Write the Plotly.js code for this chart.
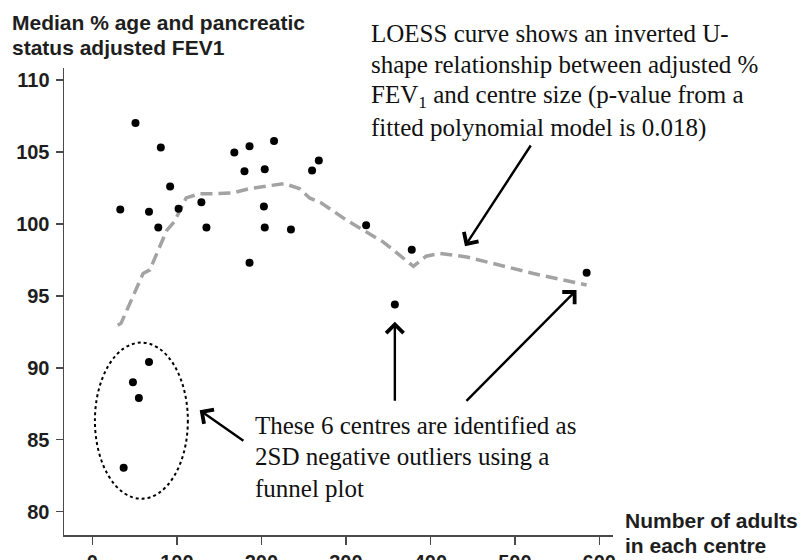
<!DOCTYPE html>
<html>
<head>
<meta charset="utf-8">
<script src="https://cdn.plot.ly/plotly-3.0.1.min.js"></script>
<style>html,body{margin:0;padding:0;background:#fff;}#chart{width:801px;height:560px;}</style>
</head>
<body>
<div id="chart"></div>
<script>
// Centre size (number of adults) and median adjusted % FEV1
const centreSize = [33, 51, 67, 78, 81, 92, 102, 129, 135, 168, 180, 186, 186, 203, 204, 204, 215, 235, 260, 268, 324, 378, 358, 585, 67, 48, 55, 37];
const medianFEV1 = [101.0, 107.0, 100.85, 99.75, 105.3, 102.6, 101.05, 101.5, 99.75, 104.95, 103.65, 105.4, 97.3, 101.2, 103.8, 99.75, 105.75, 99.6, 103.7, 104.4, 99.9, 98.2, 94.4, 96.6, 90.4, 89.0, 87.9, 83.05];

// LOESS curve
const loessX = [30, 34, 60, 68, 88, 97, 111, 127, 147, 166, 186, 206, 227, 245, 257, 271, 301, 344, 380, 395, 411, 443, 482, 522, 585];
const loessY = [92.95, 93.1, 96.55, 96.8, 99.55, 100.15, 101.8, 102.1, 102.1, 102.15, 102.45, 102.65, 102.8, 102.45, 101.8, 101.45, 100.25, 98.75, 97.05, 97.75, 97.95, 97.7, 97.15, 96.55, 95.75];

const xTicks = [0, 100, 200, 300, 400, 500, 600];
const yTicks = [80, 85, 90, 95, 100, 105, 110];

const yTitleLines = ['Median % age and pancreatic', 'status adjusted FEV1'];
const xTitleLines = ['Number of adults', 'in each centre'];
const loessNote = ['LOESS curve shows an inverted U-', 'shape relationship between adjusted %', 'FEV<sub>1</sub> and centre size (p-value from a', 'fitted polynomial model is 0.018)'];
const outlierNote = ['These 6 centres are identified as', '2SD negative outliers using a', 'funnel plot'];

// layout geometry (pixels)
const W = 801, H = 560;
const M = {l: 64, r: 188, t: 68, b: 25};
const PW = W - M.l - M.r, PH = H - M.t - M.b;
const px = v => (v - M.l) / PW;
const py = v => (H - M.b - v) / PH;

const sans = 'Liberation Sans, Arial, sans-serif';
const serif = 'Liberation Serif, Times New Roman, serif';
const ink = '#1e1e1e';

const annotations = [];
function textLine(t, x, y, font) {
  annotations.push({text: t, xref: 'paper', yref: 'paper', x: px(x), y: py(y), xanchor: 'left', yanchor: 'middle', showarrow: false, align: 'left', font: font});
}
const boldFont = {family: sans, size: 21, color: ink, weight: 'bold'};
const serifFont = {family: serif, size: 25, color: '#111'};
yTitleLines.forEach((t, i) => textLine(t, 10, 23 + i * 25, boldFont));
xTitleLines.forEach((t, i) => textLine(t, 623, 520 + i * 25.5, boldFont));
loessNote.forEach((t, i) => textLine(t, 369, 33 + i * 31.7, serifFont));
outlierNote.forEach((t, i) => textLine(t, 253, 425 + i * 31.5, serifFont));

function arrow(x0, y0, x1, y1) {
  annotations.push({text: '', x: x1, y: y1, ax: x0, ay: y0, xref: 'x', yref: 'y', axref: 'x', ayref: 'y', showarrow: true, arrowhead: 4, arrowsize: 1.4, arrowwidth: 2.4, arrowcolor: '#000', standoff: 0, startstandoff: 0});
}
arrow(520, 105.55, 441, 98.45);
arrow(180.5, 84.85, 127, 87.05);
arrow(358, 87.6, 358, 93.2);
arrow(441, 87.6, 573, 95.4);

const traces = [
  {x: loessX, y: loessY, type: 'scatter', mode: 'lines', line: {color: '#a3a3a3', width: 3.5, dash: '12px,6px'}, hoverinfo: 'skip'},
  {x: centreSize, y: medianFEV1, type: 'scatter', mode: 'markers', marker: {color: '#000', size: 8}}
];

const tickFont = {family: sans, size: 20, color: ink, weight: 'bold'};
const layout = {
  width: W, height: H,
  margin: M,
  paper_bgcolor: '#fff', plot_bgcolor: '#fff',
  showlegend: false,
  xaxis: {range: [-33.6, 616.2], tickvals: xTicks, ticktext: xTicks.map(String), showgrid: false, zeroline: false,
          showline: true, linecolor: '#4a4a4a', linewidth: 1.5, ticks: 'outside', ticklen: 8, tickwidth: 1.5, tickcolor: '#4a4a4a',
          tickfont: tickFont},
  yaxis: {range: [78.38, 110.83], tickvals: yTicks, ticktext: yTicks.map(String), showgrid: false, zeroline: false,
          showline: true, linecolor: '#4a4a4a', linewidth: 1.5, ticks: 'outside', ticklen: 7, tickwidth: 1.5, tickcolor: '#4a4a4a',
          ticklabelstandoff: 2, tickfont: tickFont},
  shapes: [{type: 'circle', xref: 'x', yref: 'y', x0: 3, x1: 113, y0: 80.9, y1: 91.75, line: {color: '#000', width: 2, dash: 'dot'}}],
  annotations: annotations
};

Plotly.newPlot('chart', traces, layout, {displayModeBar: false, staticPlot: true});
</script>
</body>
</html>
